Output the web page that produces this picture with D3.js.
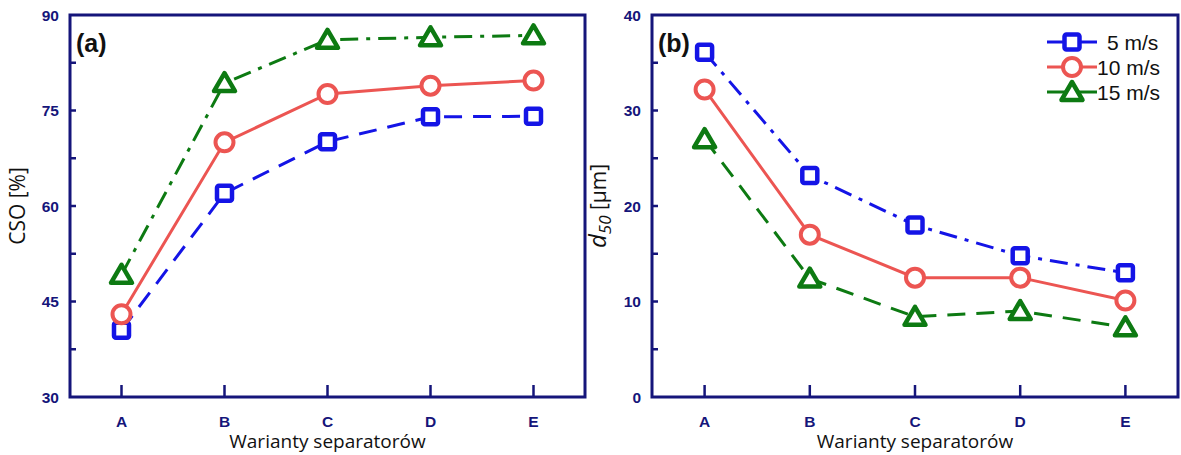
<!DOCTYPE html>
<html>
<head>
<meta charset="utf-8">
<script src="https://cdn.jsdelivr.net/npm/d3@7"></script>
<style>
	body { margin: 0; background: #fff; }
	svg { display: block; }
</style>
</head>
<body>
<svg id="chart" width="1181" height="455"></svg>
<script>
var categories = ["A", "B", "C", "D", "E"];
var speeds = ["5 m/s", "10 m/s", "15 m/s"];

// panel (a) CSO [%]
var cso_5 = [40.5, 62.0, 70.1, 74.0, 74.1];
var cso_10 = [43.0, 70.0, 77.6, 78.9, 79.7];
var cso_15 = [49.2, 79.3, 86.1, 86.5, 86.8];

// panel (b) d50 [um]
var d50_5 = [36.1, 23.2, 18.0, 14.8, 13.0];
var d50_10 = [32.2, 17.0, 12.5, 12.5, 10.1];
var d50_15 = [27.0, 12.4, 8.4, 9.0, 7.3];

var cso_ticks = [30, 45, 60, 75, 90];
var d50_ticks = [0, 10, 20, 30, 40];

var navy = "#15157a";
var colors = {"5 m/s": "#1414e6", "10 m/s": "#ec5552", "15 m/s": "#0d7a12"};
var markers = {"5 m/s": "square", "10 m/s": "circle", "15 m/s": "triangle"};

var svg = d3.select("#chart");

function drawMarker(g, type, x, y, color) {
	if (type == "square") {
		g.append("rect")
			.attr("x", x - 7.5).attr("y", y - 7.5)
			.attr("width", 15).attr("height", 15)
			.attr("rx", 2)
			.attr("fill", "#fff").attr("stroke", color).attr("stroke-width", 4.5);
	} else if (type == "circle") {
		g.append("circle")
			.attr("cx", x).attr("cy", y).attr("r", 9)
			.attr("fill", "#fff").attr("stroke", color).attr("stroke-width", 4);
	} else {
		g.append("path")
			.attr("d", "M" + x + "," + (y - 10) + "L" + (x + 10.5) + "," + (y + 8) + "L" + (x - 10.5) + "," + (y + 8) + "Z")
			.attr("fill", "#fff").attr("stroke", color).attr("stroke-width", 4.5)
			.attr("stroke-linejoin", "round");
	}
}

function drawPanel(opts) {
	var x = d3.scalePoint().domain(categories).range([opts.x0, opts.x1]).padding(0.5);
	var y = d3.scaleLinear().domain([opts.ticks[0], opts.ticks[opts.ticks.length - 1]]).range([397, 15]);

	var g = svg.append("g");

	// minor + inner major ticks on left axis
	var minor = [];
	for (var i = 0; i < opts.ticks.length - 1; i++) {
		minor.push((opts.ticks[i] + opts.ticks[i + 1]) / 2);
	}
	var ticksIn = minor.concat(opts.ticks.slice(1, -1));
	g.selectAll(".ytick").data(ticksIn).enter().append("line")
		.attr("x1", opts.x0).attr("x2", opts.x0 + 6)
		.attr("y1", function(d) { return y(d); }).attr("y2", function(d) { return y(d); })
		.attr("stroke", navy).attr("stroke-width", 2.5);

	// y tick labels
	g.selectAll(".ylab").data(opts.ticks).enter().append("text")
		.attr("x", opts.x0 - 11).attr("y", function(d) { return y(d) + 5.5; })
		.attr("text-anchor", "end")
		.attr("font-family", "Liberation Sans, Arial, sans-serif")
		.attr("font-weight", "bold").attr("font-size", 15.5)
		.attr("fill", navy)
		.text(function(d) { return d; });

	// x ticks (inward)
	g.selectAll(".xtick").data(categories).enter().append("line")
		.attr("x1", function(d) { return x(d); }).attr("x2", function(d) { return x(d); })
		.attr("y1", 397).attr("y2", 385)
		.attr("stroke", navy).attr("stroke-width", 2.5);
	g.selectAll(".xlab").data(categories).enter().append("text")
		.attr("x", function(d) { return x(d); }).attr("y", 427)
		.attr("text-anchor", "middle")
		.attr("font-family", "Liberation Sans, Arial, sans-serif")
		.attr("font-weight", "bold").attr("font-size", 15.5)
		.attr("fill", navy)
		.text(function(d) { return d; });

	// axis titles
	g.append("text")
		.attr("x", (opts.x0 + opts.x1) / 2).attr("y", 448)
		.attr("text-anchor", "middle")
		.attr("font-family", "Open Sans, sans-serif").attr("font-size", 19)
		.attr("fill", "#111")
		.text("Warianty separatorów");

	var yt = g.append("text")
		.attr("transform", "translate(" + opts.ytitleX + ",206) rotate(-90)")
		.attr("text-anchor", "middle")
		.attr("font-family", "Open Sans, sans-serif").attr("font-size", 21)
		.attr("fill", "#111");
	opts.ytitle(yt);

	// series
	opts.series.forEach(function(s) {
		var line = d3.line()
			.x(function(d, i) { return x(categories[i]); })
			.y(function(d) { return y(d); });
		g.append("path")
			.datum(s.values)
			.attr("d", line)
			.attr("fill", "none")
			.attr("stroke", colors[s.name])
			.attr("stroke-width", 3)
			.attr("stroke-dasharray", s.dash);
	});
	opts.series.forEach(function(s) {
		s.values.forEach(function(v, i) {
			drawMarker(g, markers[s.name], x(categories[i]), y(v), colors[s.name]);
		});
	});

	// frame
	g.append("rect")
		.attr("x", opts.x0).attr("y", 15)
		.attr("width", opts.x1 - opts.x0).attr("height", 382)
		.attr("fill", "none").attr("stroke", navy).attr("stroke-width", 3);

	// panel label
	g.append("text")
		.attr("x", opts.x0 + 6).attr("y", 52)
		.attr("font-family", "Liberation Sans, Arial, sans-serif")
		.attr("font-weight", "bold").attr("font-size", 25)
		.attr("fill", "#111")
		.text(opts.label);

	return g;
}

drawPanel({
	x0: 70, x1: 585,
	ticks: cso_ticks,
	label: "(a)",
	ytitleX: 25,
	ytitle: function(t) { t.text("CSO [%]"); },
	series: [
		{name: "5 m/s", values: cso_5, dash: "18,11"},
		{name: "10 m/s", values: cso_10, dash: null},
		{name: "15 m/s", values: cso_15, dash: "18,8,4,8"}
	]
});

var gb = drawPanel({
	x0: 652, x1: 1178,
	ticks: d50_ticks,
	label: "(b)",
	ytitleX: 606,
	ytitle: function(t) {
		t.append("tspan").attr("font-style", "italic").attr("font-size", 24).text("d");
		t.append("tspan").attr("font-style", "italic").attr("font-size", 17).attr("dy", 5).text("50");
		t.append("tspan").attr("dy", -5).text(" [µm]");
	},
	series: [
		{name: "5 m/s", values: d50_5, dash: "18,8,4,8"},
		{name: "10 m/s", values: d50_10, dash: null},
		{name: "15 m/s", values: d50_15, dash: "18,11"}
	]
});

// legend
var legend = gb.append("g");
speeds.forEach(function(s, i) {
	var ly = 42 + i * 25;
	legend.append("line")
		.attr("x1", 1047).attr("x2", 1097)
		.attr("y1", ly).attr("y2", ly)
		.attr("stroke", colors[s]).attr("stroke-width", 3);
	drawMarker(legend, markers[s], 1072, ly, colors[s]);
	legend.append("text")
		.attr("x", i == 0 ? 1107 : 1097).attr("y", ly + 7.5)
		.attr("font-family", "Liberation Sans, Arial, sans-serif").attr("font-size", 21)
		.attr("fill", "#111")
		.text(s);
});
</script>
</body>
</html>
